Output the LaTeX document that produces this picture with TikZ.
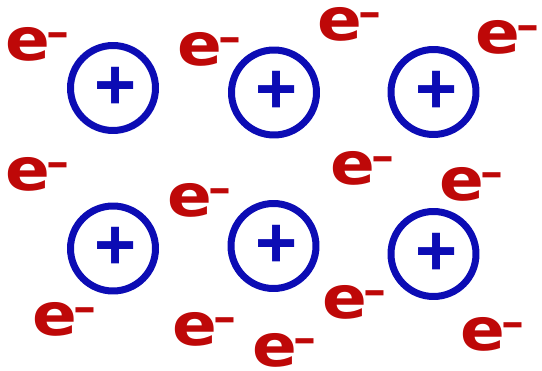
\documentclass[tikz,border=0pt]{standalone}
\usepackage{fontspec}
\setmainfont{Liberation Sans}
\newfontfamily\elecfont{DejaVu Sans}
\usepackage{xcolor}
\definecolor{ionblue}{RGB}{12,12,180}
\definecolor{elecred}{RGB}{190,8,8}
\newcommand{\elec}{e\kern-3pt\raisebox{14pt}{\fontsize{41}{41}\selectfont\textendash}}
\tikzset{
  every picture/.style={line join=round, line cap=round},
  ion/.style={circle, draw=ionblue, line width=7pt, minimum size=85pt, inner sep=0pt,
    text=ionblue, font=\bfseries\fontsize{72}{72}\selectfont},
  electron/.style={anchor=base west, inner sep=0pt, text=elecred, xscale=1.12,
    font=\elecfont\bfseries\fontsize{59}{59}\selectfont},
}

\begin{document}
\begin{tikzpicture}[x=1pt,y=-1pt]
\useasboundingbox (0,0) rectangle (542,371);
% positive ions
\node[ion] (ionA) at (113,88) {\kern6pt+};
\node[ion] (ionB) at (274,92.5) {\kern6pt+};
\node[ion] (ionC) at (433.5,92) {\kern6pt+};
\node[ion] (ionD) at (113,248.5) {\kern6pt+};
\node[ion] (ionE) at (273.5,246) {\kern6pt+};
\node[ion] (ionF) at (433.5,254) {\kern6pt+};
% free electrons
\foreach \i/\x/\y in {1/5/61, 2/177/66, 3/317/41, 4/475/54,
  5/5/191, 6/167/217, 7/330/185, 8/439/201,
  9/32/336, 10/172/346, 11/252/367, 12/322/319, 13/460/351}
  \node[electron] (e\i) at (\x,\y) {\elec};
\end{tikzpicture}
\end{document}
